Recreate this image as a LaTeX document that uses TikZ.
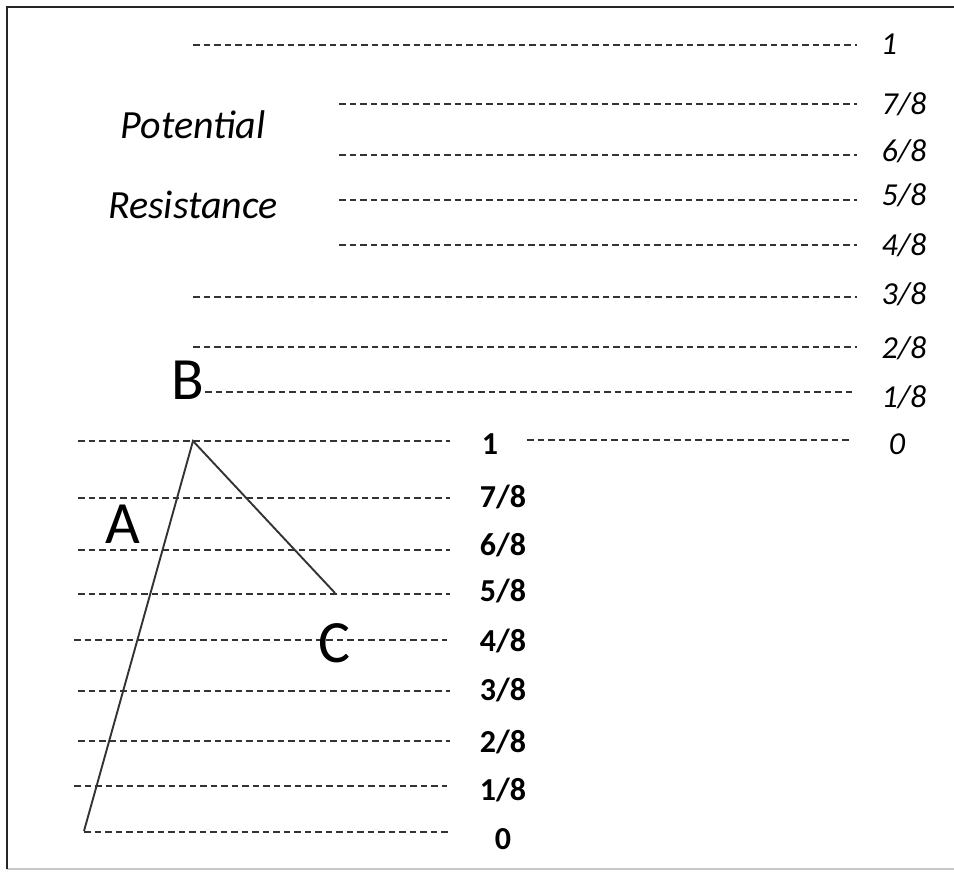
\documentclass[tikz,border=0pt]{standalone}
\usepackage{fontspec}
\setmainfont{Carlito}
\usepackage{tikz}
\usetikzlibrary{positioning, calc}
\usepackage{xcolor}
\definecolor{lvlgray}{HTML}{333333}
\definecolor{framegray}{HTML}{C8C8C8}

\begin{document}
\begin{tikzpicture}[
  x=1pt, y=-1pt,
  level/.style={lvlgray, line width=1.8pt, dash pattern=on 6.5pt off 4pt},
  potlabel/.style={font=\fontsize{32}{32}\selectfont\itshape, inner sep=0pt},
  reslabel/.style={font=\fontsize{32}{32}\selectfont\bfseries, inner sep=0pt},
  word/.style={font=\fontsize{40}{40}\selectfont\itshape, inner sep=0pt},
  corner/.style={font=\fontsize{60}{60}\selectfont, inner sep=0pt}
]
  \useasboundingbox (0,0) rectangle (954,871);

  % Frame
  \draw[framegray, line width=1.5pt] (7,869) -- (954,869);
  \draw[black!85, line width=1.5pt] (7,869) -- (7,7) -- (954,7);

  % Upper scale
  \foreach \xs/\xe/\y in {193/857/45, 339/857/104, 339/857/155, 339/857/200,
      339/857/245, 193/857/297, 193/857/347, 205/855/392, 527/851/440} {
    \draw[level] (\xs,\y) -- (\xe,\y);
  }
  \foreach \i/\v/\x/\y in {1/1/889/44, 2/7\slash 8/904/104, 3/6\slash 8/904/151,
      4/5\slash 8/904/195, 5/4\slash 8/904/245, 6/3\slash 8/904/294,
      7/2\slash 8/904/348, 8/1\slash 8/904/397, 9/0/897/444} {
    \node[potlabel] (up\i) at (\x,\y) {\v};
  }

  % Lower scale
  \foreach \y/\xs/\xe in {441/78/450, 498/78/450, 550/78/450,
      594/78/450, 640/74/447, 691/78/450, 741/78/450,
      786/74/447, 832/84/450} {
    \draw[level] (\xs,\y) -- (\xe,\y);
  }
  \foreach \i/\v/\x/\y in {1/1/490/444, 2/7\slash 8/503/497, 3/6\slash 8/503/545,
      4/5\slash 8/503/591, 5/4\slash 8/503/641, 6/3\slash 8/503/690,
      7/2\slash 8/503/742, 8/1\slash 8/503/790, 9/0/503/839} {
    \node[reslabel] (lo\i) at (\x,\y) {\v};
  }

  % Words
  \node[word] (pot) at (193,125) {Potential};
  \node[word] (res) at (193,205) {Resistance};

  % Triangle
  \coordinate (pa) at (84,831);
  \coordinate (pb) at (193,441);
  \coordinate (pc) at (335,593);
  \draw[lvlgray, line width=1.9pt, line join=miter] (pa) -- (pb) -- (pc);

  \node[corner] (la) at (123,524) {A};
  \node[corner] (lb) at (188,380) {B};
  \node[corner] (lc) at (334,643) {C};
\end{tikzpicture}
\end{document}
